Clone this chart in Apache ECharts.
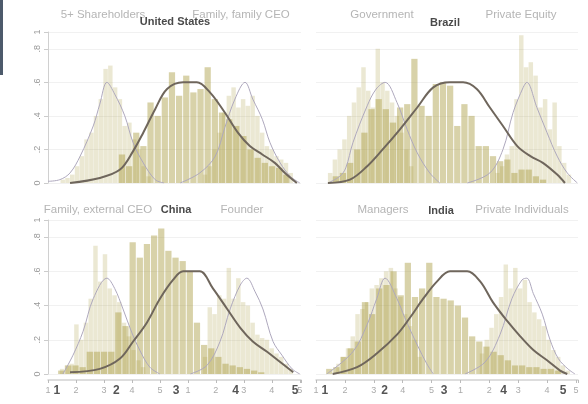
<!DOCTYPE html>
<html><head><meta charset="utf-8">
<script src="https://cdn.jsdelivr.net/npm/echarts@6/dist/echarts.min.js"></script>
<style>html,body{margin:0;padding:0;background:#fff}#c{width:588px;height:404px}</style>
</head><body><div id="c"></div>
<script>
// ---- data (x in score units, heights in density units) ----
const narrowBin = 0.08;
const wideBin = 0.12;
const scoreTicks = ['1', '2', '3', '4', '5'];

// United States
const usLeftStart = 1.06;
const usLeft = [0.02,0.03,0.05,0.1,0.16,0.26,0.3,0.4,0.5,0.68,0.7,0.57,0.5,0.34,0.36,0.26,0.2,0.1,0.04];
const usMidStart = 2.04;
const usMid = [0.17,0.1,0.3,0.22,0.48,0.4,0.51,0.66,0.52,0.64,0.54,0.56,0.69,0.5,0.42,0.38,0.34,0.28,0.2,0.15,0.12,0.1,0.09,0.05];
const usRightStart = 3.45;
const usRight = [0.05,0.1,0.2,0.3,0.42,0.52,0.57,0.45,0.5,0.46,0.52,0.4,0.3,0.22,0.2,0.16,0.14,0.12,0.06];
const usLeftCurve = [[0.85,0.01],[1.05,0.02],[1.22,0.06],[1.39,0.16],[1.61,0.34],[1.72,0.47],[1.84,0.6],[1.97,0.53],[2.14,0.4],[2.28,0.24],[2.45,0.12],[2.65,0.02],[2.8,0]];
const usMidCurve = [[1.22,0],[1.72,0.03],[2.06,0.08],[2.28,0.19],[2.45,0.3],[2.65,0.44],[2.85,0.56],[3.12,0.6],[3.35,0.6],[3.57,0.54],[3.82,0.42],[4.04,0.3],[4.24,0.22],[4.45,0.17],[4.66,0.12],[4.83,0.06],[5.03,0]];
const usRightCurve = [[3.07,0],[3.40,0.06],[3.66,0.16],[3.82,0.33],[3.99,0.5],[4.16,0.6],[4.29,0.5],[4.45,0.38],[4.58,0.24],[4.75,0.12],[4.92,0.04],[5.08,0]];

// Brazil
const brLeftStart = 1.05;
const brLeft = [0.06,0.14,0.2,0.26,0.4,0.48,0.57,0.69,0.55,0.45,0.8,0.6,0.55,0.48,0.4,0.3,0.2,0.1];
const brMidStart = 1.13;
const brMid = [0.04,0.06,0.12,0.2,0.3,0.44,0.5,0.44,0.36,0.45,0.47,0.74,0.46,0.4,0.59,0.6,0.58,0.34,0.47,0.4,0.22,0.22,0.16,0.13,0.14,0.06,0.08,0.08,0.04,0.02];
const brRightStart = 3.86;
const brRight = [0.06,0.1,0.17,0.22,0.5,0.88,0.69,0.72,0.64,0.45,0.5,0.32,0.48,0.22,0.12,0.05];
const brLeftCurve = [[1.05,0],[1.25,0.04],[1.35,0.09],[1.47,0.24],[1.71,0.46],[1.86,0.56],[2.01,0.6],[2.21,0.48],[2.38,0.32],[2.55,0.18],[2.76,0.06],[2.93,0]];
const brMidCurve = [[1.05,0],[1.42,0.02],[1.71,0.1],[1.97,0.2],[2.26,0.32],[2.55,0.45],[2.82,0.57],[3.10,0.6],[3.32,0.6],[3.55,0.56],[3.77,0.45],[3.99,0.34],[4.23,0.22],[4.45,0.16],[4.66,0.12],[4.90,0.05],[5.03,0]];
const brRightCurve = [[3.39,0],[3.77,0.06],[3.99,0.2],[4.16,0.42],[4.33,0.57],[4.39,0.6],[4.56,0.45],[4.73,0.3],[4.90,0.16],[5.07,0.06],[5.24,0]];

// China
const cnLeftStart = 1.05;
const cnLeft = [0.03,0.05,0.06,0.29,0.2,0.3,0.44,0.75,0.54,0.7,0.5,0.46,0.42,0.3,0.22,0.14,0.08,0.04];
const cnMidStart = 1.02;
const cnMid = [0.02,0.05,0.05,0.04,0.13,0.13,0.13,0.13,0.36,0.28,0.77,0.68,0.76,0.81,0.85,0.72,0.68,0.66,0.6,0.3,0.17,0.15,0.1,0.06,0.05,0.04,0.03,0.02,0.01];
const cnRightStart = 3.45;
const cnRight = [0.1,0.39,0.35,0.46,0.44,0.62,0.44,0.56,0.42,0.4,0.3,0.23,0.21,0.2,0.15,0.12,0.1,0.06,0.03];
const cnLeftCurve = [[1.10,0],[1.27,0.11],[1.44,0.25],[1.61,0.44],[1.84,0.56],[1.97,0.5],[2.11,0.38],[2.26,0.24],[2.39,0.14],[2.56,0.04],[2.73,0]];
const cnMidCurve = [[1.22,0.01],[1.72,0.03],[2.06,0.09],[2.28,0.19],[2.51,0.3],[2.73,0.44],[2.95,0.55],[3.12,0.6],[3.40,0.6],[3.62,0.5],[3.86,0.38],[4.08,0.27],[4.29,0.19],[4.53,0.13],[4.75,0.07],[4.97,0.01]];
const cnRightCurve = [[3.24,0],[3.52,0.05],[3.74,0.19],[3.91,0.38],[4.08,0.52],[4.19,0.56],[4.33,0.48],[4.46,0.38],[4.63,0.19],[4.78,0.11],[4.95,0.03],[5.08,0]];

// India
const inLeftStart = 1.19;
const inLeft = [0.06,0.1,0.15,0.22,0.35,0.38,0.42,0.5,0.52,0.56,0.6,0.62,0.5,0.45,0.35,0.28,0.2,0.1];
const inMidStart = 1.02;
const inMid = [0.03,0.04,0.1,0.15,0.19,0.42,0.35,0.5,0.52,0.6,0.46,0.65,0.45,0.5,0.65,0.45,0.44,0.43,0.4,0.33,0.22,0.19,0.16,0.13,0.11,0.08,0.05,0.05,0.04,0.04,0.03,0.03,0.02];
const inRightStart = 3.6;
const inRight = [0.12,0.2,0.27,0.35,0.45,0.64,0.5,0.62,0.5,0.55,0.42,0.36,0.32,0.28,0.2,0.14,0.1,0.05,0.02];
const inLeftCurve = [[1.03,0],[1.47,0.13],[1.71,0.29],[1.87,0.44],[2.01,0.56],[2.21,0.44],[2.34,0.33],[2.55,0.17],[2.71,0.06],[2.82,0]];
const inMidCurve = [[1.13,0],[1.54,0.04],[1.87,0.12],[2.21,0.23],[2.43,0.33],[2.65,0.44],[2.88,0.54],[3.10,0.6],[3.39,0.6],[3.61,0.54],[3.82,0.42],[4.06,0.31],[4.28,0.22],[4.50,0.14],[4.73,0.08],[4.95,0.02],[5.07,0]];
const inRightCurve = [[3.35,0],[3.69,0.07],[3.94,0.23],[4.14,0.44],[4.31,0.55],[4.39,0.56],[4.50,0.47],[4.65,0.35],[4.78,0.2],[4.92,0.09],[5.08,0.03],[5.20,0]];

const panelTitles = ['United States', 'Brazil', 'China', 'India'];
const groupLabels = [['5+ Shareholders', 'Family, family CEO'], ['Government', 'Private Equity'], ['Family, external CEO', 'Founder'], ['Managers', 'Private Individuals']];

// ---- chart ----
const panels = [
  {hist: [[usLeftStart, narrowBin, usLeft], [usRightStart, narrowBin, usRight], [usMidStart, wideBin, usMid]], curves: [usLeftCurve, usRightCurve, usMidCurve]},
  {hist: [[brLeftStart, narrowBin, brLeft], [brRightStart, narrowBin, brRight], [brMidStart, wideBin, brMid]], curves: [brLeftCurve, brRightCurve, brMidCurve]},
  {hist: [[cnLeftStart, narrowBin, cnLeft], [cnRightStart, narrowBin, cnRight], [cnMidStart, wideBin, cnMid]], curves: [cnLeftCurve, cnRightCurve, cnMidCurve]},
  {hist: [[inLeftStart, narrowBin, inLeft], [inRightStart, narrowBin, inRight], [inMidStart, wideBin, inMid]], curves: [inLeftCurve, inRightCurve, inMidCurve]}
];
const gridBoxes = [
  {left: 48, top: 32, width: 253, height: 151},
  {left: 316, top: 32, width: 262, height: 151},
  {left: 48, top: 220, width: 253, height: 154},
  {left: 316, top: 220, width: 262, height: 154}
];
const xMax = [5.1, 5.25, 5.1, 5.25];
const subInterval = [0.47, 0.485, 0.47, 0.485];
const lightFill = 'rgba(165,150,55,0.22)';
const midFill = 'rgba(165,150,55,0.43)';

function toBins(start, width, heights) {
  return heights.map((h, i) => [start + i * width, start + (i + 1) * width, h]);
}
function histRender(fill, gap) {
  return function (params, api) {
    const a = api.coord([api.value(0), api.value(2)]);
    const b = api.coord([api.value(1), 0]);
    return {type: 'rect', shape: {x: a[0], y: a[1], width: Math.max(b[0] - a[0] - gap, 0.6), height: b[1] - a[1]}, style: {fill: fill}};
  };
}

const xAxis = [], yAxis = [], series = [];
gridBoxes.forEach((g, i) => {
  const bottom = i >= 2, left = i % 2 === 0;
  xAxis.push({
    type: 'value', gridIndex: i, position: 'bottom', min: 0.85, max: xMax[i], splitNumber: 4, show: bottom, offset: 6,
    axisLine: {show: false}, axisTick: {show: false}, splitLine: {show: false},
    axisLabel: {margin: 5, color: '#555', fontWeight: 'bold', fontSize: 12, fontFamily: 'Liberation Sans',
      formatter: v => Math.abs(v - Math.round(v)) < 1e-6 ? String(Math.round(v)) : ''}
  });
  xAxis.push({
    type: 'value', gridIndex: i, position: 'bottom', min: 0.85, max: xMax[i], interval: subInterval[i], show: bottom, offset: 6,
    axisLine: {show: true, lineStyle: {color: '#d2d2d2', width: 1.5}},
    axisTick: {show: true, length: 3, lineStyle: {color: '#bbb'}}, splitLine: {show: false},
    axisLabel: {margin: 6, color: '#aaa', fontSize: 9, fontFamily: 'Liberation Sans',
      formatter: (v, idx) => idx < 10 ? scoreTicks[idx % 5] : ''}
  });
  yAxis.push({
    type: 'value', gridIndex: i, min: 0, max: 0.9, interval: 0.2,
    axisLine: {show: left, lineStyle: {color: '#d0d0d0'}},
    axisTick: {show: left, length: 4, lineStyle: {color: '#ccc'}},
    axisLabel: {show: left, rotate: 90, margin: 6, color: '#999', fontSize: 9, fontFamily: 'Liberation Sans',
      formatter: v => v >= 0.89 ? '1' : (v === 0 ? '0' : String(Math.round(v * 10) / 10).replace(/^0/, ''))},
    splitLine: {show: true, lineStyle: {color: '#f1f1f1'}}
  });
  const p = panels[i];
  p.hist.forEach((h, k) => {
    series.push({
      type: 'custom', xAxisIndex: 2 * i, yAxisIndex: i,
      renderItem: histRender(k < 2 ? lightFill : midFill, k < 2 ? 0.3 : 0.9),
      encode: {x: [0, 1], y: 2},
      data: toBins(h[0], h[1], h[2])
    });
  });
  p.curves.forEach((c, k) => {
    series.push({
      type: 'line', xAxisIndex: 2 * i, yAxisIndex: i, data: c, smooth: 0.35, symbol: 'none', z: 5,
      lineStyle: k < 2 ? {color: '#aea8bd', width: 1} : {color: '#6f665c', width: 2}
    });
  });
});

const titlePos = [[175, 22], [445, 23], [176, 210], [441, 211]];
const groupPos = [[[103, 15], [241, 15]], [[382, 15], [521, 15]], [[98, 210], [242, 210]], [[383, 210], [522, 210]]];
const graphic = [{type: 'rect', shape: {x: 0, y: 0, width: 3, height: 75}, style: {fill: '#4d5a6b'}}];
groupLabels.forEach((pair, i) => pair.forEach((t, k) => {
  graphic.push({type: 'text', x: groupPos[i][k][0], y: groupPos[i][k][1],
    style: {text: t, fill: '#b5b5b5', font: '11.5px "Liberation Sans"', textAlign: 'center', textVerticalAlign: 'middle'}});
}));
panelTitles.forEach((t, i) => {
  graphic.push({type: 'text', x: titlePos[i][0], y: titlePos[i][1], z: 10,
    style: {text: t, fill: '#4a4a4a', font: 'bold 11px "Liberation Sans"', textAlign: 'center', textVerticalAlign: 'middle'}});
});

const chart = echarts.init(document.getElementById('c'));
chart.setOption({
  animation: false,
  backgroundColor: '#fff',
  grid: gridBoxes,
  xAxis: xAxis,
  yAxis: yAxis,
  series: series,
  graphic: graphic
});
</script></body></html>
